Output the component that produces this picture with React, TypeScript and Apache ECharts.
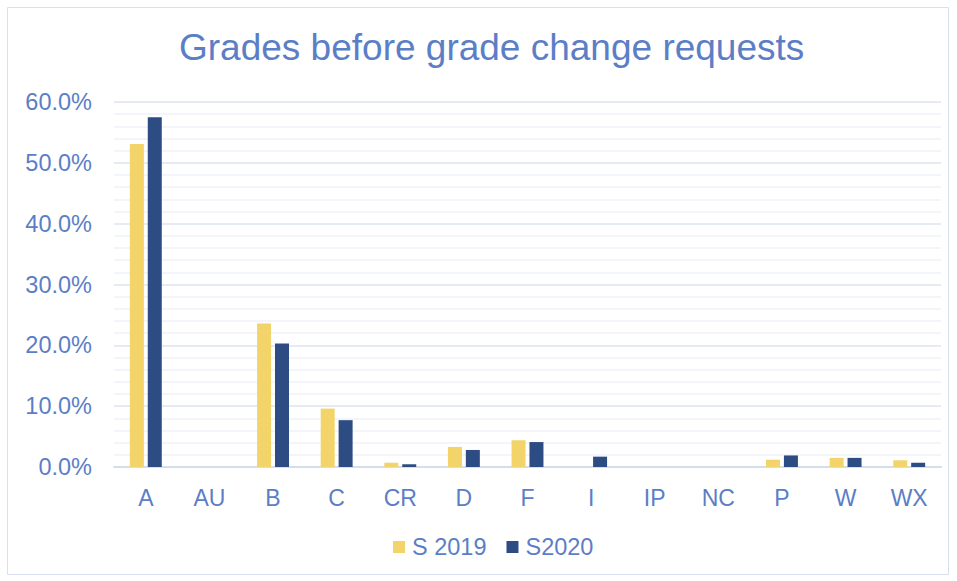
import React, { useEffect, useRef } from "react";
import * as echarts from "echarts";

const categories = ["A", "AU", "B", "C", "CR", "D", "F", "I", "IP", "NC", "P", "W", "WX"];
const s2019 = [53.1, 0, 23.6, 9.6, 0.7, 3.3, 4.4, 0, 0, 0, 1.2, 1.5, 1.1];
const s2020 = [57.5, 0, 20.3, 7.7, 0.45, 2.8, 4.1, 1.7, 0, 0, 1.9, 1.5, 0.7];
const seriesNames = ["S 2019", "S2020"];
const titleText = "Grades before grade change requests";

const TEXT = "#5B7EC6";
const FONT = "Liberation Sans, Arial, sans-serif";

export default function App() {
  const ref = useRef<HTMLDivElement>(null);
  useEffect(() => {
    const chart = echarts.init(ref.current!, null, { renderer: "svg" });
    chart.setOption({
      animation: false,
      backgroundColor: "#ffffff",
      textStyle: { fontFamily: FONT },
      title: {
        text: titleText,
        left: 174,
        top: 24,
        textStyle: { color: TEXT, fontSize: 37, fontWeight: "normal", fontFamily: FONT },
      },
      graphic: [
        {
          type: "rect",
          shape: { x: 7.5, y: 7.5, width: 941, height: 567 },
          style: { fill: "none", stroke: "#D9E1F0", lineWidth: 1 },
          silent: true,
        },
      ],
      legend: {
        data: seriesNames,
        bottom: 17,
        left: 388,
        itemWidth: 12,
        itemHeight: 12,
        itemGap: 20,
        icon: "rect",
        textStyle: { color: TEXT, fontSize: 23.5, fontFamily: FONT, padding: [0, 0, 0, 2] },
      },
      grid: { left: 114, right: 16, top: 102, bottom: 114 },
      xAxis: {
        type: "category",
        data: categories,
        axisLine: { show: true, lineStyle: { color: "#D6DEEC", width: 2 } },
        axisTick: { show: false },
        axisLabel: { color: TEXT, fontSize: 23, margin: 19, fontFamily: FONT },
      },
      yAxis: {
        type: "value",
        min: 0,
        max: 60,
        interval: 10,
        axisLine: { show: false },
        axisTick: { show: false },
        axisLabel: {
          color: TEXT,
          fontSize: 23.5,
          margin: 22,
          formatter: (v: number) => v.toFixed(1) + "%",
          fontFamily: FONT,
        },
        splitLine: { show: true, lineStyle: { color: "#DCE3F0", width: 1.5 } },
        minorTick: { show: false, splitNumber: 5 },
        minorSplitLine: { show: true, lineStyle: { color: "#F1F2F8", width: 1.5 } },
      },
      series: [
        {
          name: seriesNames[0],
          type: "bar",
          data: s2019,
          barWidth: 14,
          barGap: "28%",
          itemStyle: { color: "#F2D46B" },
        },
        {
          name: seriesNames[1],
          type: "bar",
          data: s2020,
          barWidth: 14,
          itemStyle: { color: "#2E4C84" },
        },
      ],
    });
    return () => chart.dispose();
  }, []);
  return (
    <div
      ref={ref}
      style={{ position: "fixed", left: 0, top: 0, width: 957, height: 581 }}
    />
  );
}
